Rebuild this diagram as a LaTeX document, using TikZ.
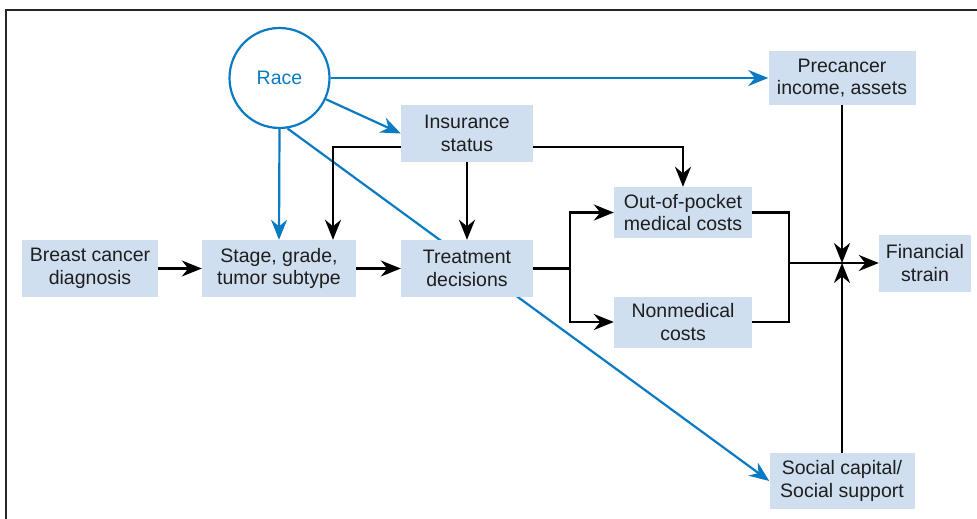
\documentclass[tikz,border=0pt]{standalone}
\usepackage{fontspec}
\setmainfont{Liberation Sans}
\usetikzlibrary{arrows.meta,calc,backgrounds}
\definecolor{ablue}{RGB}{10,122,194}
\definecolor{boxfill}{RGB}{207,223,240}
\definecolor{txt}{RGB}{30,30,30}
\tikzset{
  box/.style={fill=boxfill,inner sep=0pt,align=center,text=txt,
    font=\fontsize{19.5}{22.5}\selectfont},
  blk/.style={draw=black,line width=2.3pt,
    -{Stealth[length=20pt,width=16pt,inset=6.5pt]}},
  blkline/.style={draw=black,line width=2.3pt},
  bluarr/.style={draw=ablue,line width=2.2pt,
    -{Stealth[length=20pt,width=16pt,inset=6.5pt]}},
}
\begin{document}
\begin{tikzpicture}[x=1pt,y=-1pt]
\useasboundingbox (0,0) rectangle (977,519);
\draw[line width=1.5pt,black!85] (6,530) -- (6,10) -- (990,10);
% nodes
\node[box,minimum width=136,minimum height=57] (breast) at (90,268.5) {Breast cancer\\diagnosis};
\node[box,minimum width=154,minimum height=57] (stage) at (279,268.5) {Stage, grade,\\tumor subtype};
\node[box,minimum width=132,minimum height=57] (treat) at (467,268.5) {Treatment\\decisions};
\node[box,minimum width=132,minimum height=57] (ins) at (467,133.5) {Insurance\\status};
\node[box,minimum width=138,minimum height=51] (oop) at (683,212.5) {Out-of-pocket\\medical costs};
\node[box,minimum width=138,minimum height=51] (nonmed) at (683,322) {Nonmedical\\costs};
\node[box,minimum width=92,minimum height=57] (fin) at (925,263) {Financial\\strain};
\node[box,minimum width=147,minimum height=54] (pre) at (842,78) {Precancer\\income, assets};
\node[box,minimum width=145,minimum height=56] (soc) at (842,481) {Social capital/\\Social support};
\node[circle,draw=ablue,line width=2.2pt,minimum size=100,inner sep=0pt,text=ablue,
  font=\fontsize{19.5}{22.5}\selectfont] (race) at (279.5,78) {Race};
% coordinates
\coordinate (split) at (570,268.5);
\coordinate (jx) at (789,263);
\coordinate (hub) at (842,263);
% blue line behind treatment box
\begin{pgfonlayer}{background}
\draw[bluarr] (race.-81) -- (soc.west);
\end{pgfonlayer}
% blue arrows
\draw[bluarr] (race.east) -- (pre.west);
\draw[bluarr] (race) -- (ins.west);
\draw[bluarr] (race.south) -- (stage.north);
% black arrows
\draw[blk] (breast.east) -- (stage.west);
\draw[blk] (stage.east) -- (treat.west);
\draw[blk] ($(ins.west)+(0,13.5)$) -| ($(stage.north)+(54,0)$);
\draw[blk] (ins.south) -- (treat.north);
\draw[blk] ($(ins.east)+(0,13.5)$) -| (oop.north);
\draw[blkline] (treat.east) -- (split);
\draw[blk] (split) |- (oop.west);
\draw[blk] (split) |- (nonmed.west);
\draw[blkline] (oop.east) -| (jx) |- (nonmed.east);
\draw[blk] (jx) -- (fin.west);
\draw[blk] (pre.south) -- (hub);
\draw[blk] (soc.north) -- (hub);
\end{tikzpicture}
\end{document}
